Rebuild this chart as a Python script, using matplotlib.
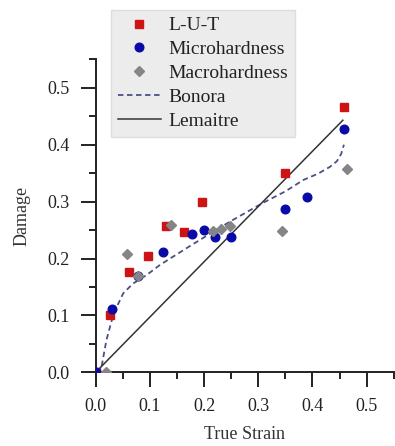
import numpy as np
import matplotlib
matplotlib.use("Agg")
import matplotlib.pyplot as plt
from matplotlib.ticker import MultipleLocator

plt.rcParams['font.family'] = ['Liberation Serif', 'DejaVu Serif']

# L-U-T
lut_x = [0.0, 0.026, 0.062, 0.097, 0.130, 0.163, 0.196, 0.349, 0.459]
lut_y = [0.0, 0.100, 0.176, 0.204, 0.257, 0.247, 0.300, 0.351, 0.466]

# Microhardness
micro_x = [0.0, 0.030, 0.079, 0.124, 0.177, 0.200, 0.220, 0.250, 0.350, 0.389, 0.459]
micro_y = [0.0, 0.112, 0.170, 0.211, 0.243, 0.251, 0.238, 0.237, 0.287, 0.309, 0.428]

# Macrohardness
macro_x = [0.019, 0.058, 0.079, 0.139, 0.217, 0.232, 0.248, 0.344, 0.463]
macro_y = [0.0, 0.208, 0.169, 0.259, 0.248, 0.252, 0.258, 0.249, 0.357]

# Bonora model curve
bonora_x = [0.0, 0.011, 0.020, 0.030, 0.039, 0.051, 0.069, 0.094, 0.119, 0.174,
            0.210, 0.248, 0.309, 0.350, 0.383, 0.410, 0.432, 0.445, 0.453, 0.458]
bonora_y = [0.0, 0.010, 0.057, 0.092, 0.115, 0.139, 0.156, 0.171, 0.189, 0.222,
            0.243, 0.265, 0.298, 0.318, 0.338, 0.349, 0.361, 0.371, 0.384, 0.400]

# Lemaitre line
lem_x = [0.0, 0.456]
lem_y = [0.0, 0.443]

fig = plt.figure(figsize=(3.95, 4.46), dpi=100)
ax = fig.add_axes([0.242, 0.165, 0.755, 0.702])

ax.plot(lut_x, lut_y, 's', color='#cc1414', markersize=5.2, label='L-U-T', zorder=3)
ax.plot(micro_x, micro_y, 'o', color='#0a0aa8', markersize=6.2, label='Microhardness', zorder=3)
ax.plot(macro_x, macro_y, 'D', color='#858585', markersize=5.2, label='Macrohardness', zorder=4)
ax.plot(bonora_x, bonora_y, '--', color='#4a5086', lw=1.3, dashes=(3, 2), label='Bonora', zorder=2)
ax.plot(lem_x, lem_y, '-', color='#333333', lw=1.1, label='Lemaitre', zorder=2)

ax.set_xlim(0, 0.55)
ax.set_ylim(0, 0.55)
ax.xaxis.set_major_locator(MultipleLocator(0.1))
ax.xaxis.set_minor_locator(MultipleLocator(0.05))
ax.yaxis.set_major_locator(MultipleLocator(0.1))
ax.yaxis.set_minor_locator(MultipleLocator(0.05))
ax.xaxis.set_major_formatter(plt.FormatStrFormatter('%.1f'))
ax.yaxis.set_major_formatter(plt.FormatStrFormatter('%.1f'))

for s in ['top', 'right']:
    ax.spines[s].set_visible(False)
for s in ['left', 'bottom']:
    ax.spines[s].set_linewidth(1.4)
    ax.spines[s].set_color('#222222')

ax.tick_params(which='major', direction='out', length=10.5, width=1.4, labelsize=13, colors='#222222', pad=8)
ax.tick_params(which='minor', direction='out', length=5, width=1.4, colors='#222222')

ax.set_xlabel('True Strain', fontsize=13, color='#333333', labelpad=8)
ax.set_ylabel('Damage', fontsize=13, color='#333333', labelpad=12)

leg = ax.legend(loc='upper left', bbox_to_anchor=(111 / 395, 1 - 10 / 446),
                bbox_transform=fig.transFigure, fontsize=14,
                frameon=True, fancybox=False, framealpha=1, labelspacing=0.32,
                handlelength=2.2, handletextpad=0.4, borderpad=0.35, borderaxespad=0)
leg.get_frame().set_facecolor('#ececec')
leg.get_frame().set_edgecolor('#dddddd')
for t in leg.get_texts():
    t.set_color('#222222')

fig.savefig('out.png', dpi=100)
